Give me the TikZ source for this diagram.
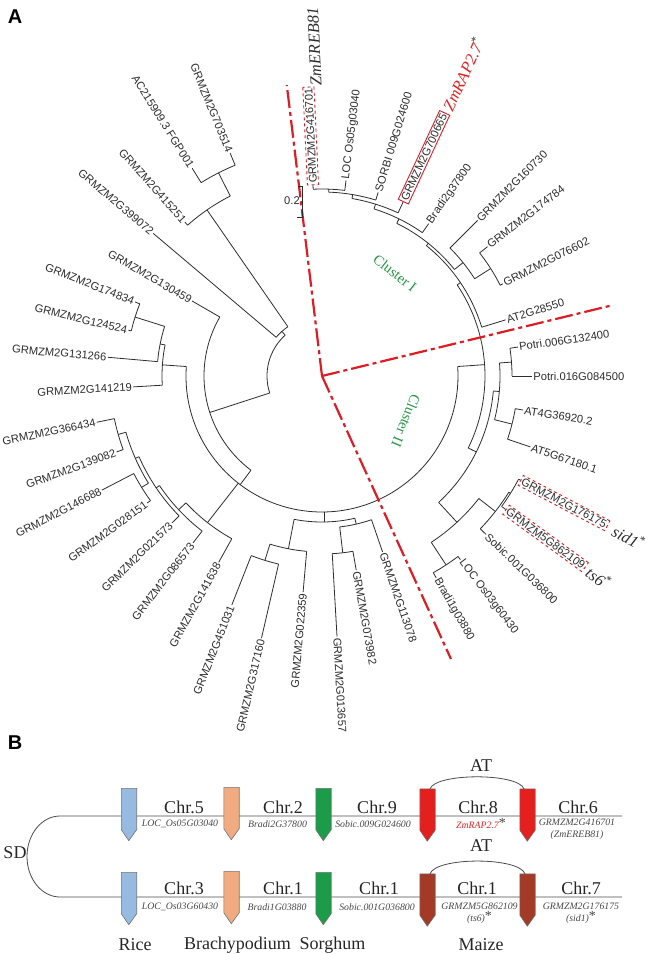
\documentclass[tikz,border=0pt]{standalone}
\usepackage{fontspec}
\setmainfont{Liberation Serif}
\setsansfont{Liberation Sans}
\usetikzlibrary{positioning}

\definecolor{treegray}{RGB}{45,45,45}
\definecolor{cutred}{RGB}{222,28,36}
\definecolor{clgreen}{RGB}{35,150,65}
\definecolor{riceblue}{RGB}{150,186,224}
\definecolor{brachy}{RGB}{240,172,128}
\definecolor{sorgreen}{RGB}{28,155,72}
\definecolor{maizered}{RGB}{228,32,30}
\definecolor{maizebrown}{RGB}{162,58,38}

\tikzstyle{leaf} = [font=\sffamily\fontsize{11.2}{11.5}\selectfont, text=treegray, inner sep=1pt]
\tikzstyle{branch} = [draw=treegray, line width=0.8pt]
\tikzstyle{cut} = [draw=cutred, line width=2.2pt, dash pattern=on 18pt off 4pt on 4pt off 4pt]
\tikzstyle{boxed} = [draw=cutred, line width=0.9pt, inner sep=1.6pt]
\tikzstyle{tag} = [font=\itshape\fontsize{16.5}{17}\selectfont, inner sep=1pt]
\tikzstyle{clabel} = [font=\fontsize{14.5}{15}\selectfont, text=clgreen]
\tikzstyle{panel} = [font=\sffamily\bfseries\fontsize{20}{20}\selectfont]
\tikzstyle{gene} = [rectangle, minimum width=15pt, minimum height=41pt, inner sep=0pt]
\tikzstyle{chr} = [font=\fontsize{18}{18}\selectfont, text=black!85]
\tikzstyle{gname} = [font=\itshape\fontsize{9.8}{12.5}\selectfont, text=black!72, align=center]
\tikzstyle{chrline} = [draw=black!70, line width=0.8pt]

% gene arrow drawn round a gene node
\newcommand{\genearrow}[2]{\filldraw[draw=black!55, line width=0.6pt, fill=#2]
  (#1.north west) -- (#1.south west) -- ++(7.5,-11) -- (#1.south east) -- (#1.north east) -- cycle;}

\begin{document}
\begin{tikzpicture}[x=1pt,y=1pt]
\useasboundingbox (0,0) rectangle (651,-954);
\node[panel] (pa) at (15,-17) {A};
\node[panel] (pb) at (15,-743) {B};

% ---- circular tree ----
\begin{scope}[shift={(322,-376)}]
\coordinate (root) at (0,0);
% arcs
\foreach \r/\a/\b in {187/83/92.7, 184/73/87.9, 180/65/80.4, 175/55/72.7, 200/27/38,
    181/32.5/45, 170/38.8/63.9, 167/17/51.3, 190/0/8.4, 196/-18.8/-9.6, 178/-14.2/4.2,
    222/-36/-27.7, 220/-44/-31.9, 226/-60.5/-53, 199/-56.7/-38, 172/-47.3/-5, 163/-26.2/34,
    136/-184/4, 196/158.4/166.7, 165/162.5/175, 160/168.8/183.3, 118/150/233, 55/132/198,
    60/124.7/139.8, 202/117/131.7, 228/112.4/122, 212/191.6/200.3, 212/207.4/216,
    204/196/211.7, 200/203.8/224.4, 196/214/232.3, 186/223/241, 193/248.5/257,
    176/252.8/265, 178/273.3/280, 152/276.7/289, 146/259/283}
  \draw[branch] (\a:\r) arc[start angle=\a, end angle=\b, radius=\r];
% inner branches
\foreach \t/\ra/\rb in {87.9/184/187, 80.4/180/184, 72.7/175/180, 32.5/181/200,
    63.9/170/175, 38.8/170/181, 51.3/167/170, 4.2/178/190, -14.2/178/196, -31.9/220/222,
    -38/199/220, -56.7/199/226, -5/172/178, -47.3/172/199, 34/163/167, -26.2/163/172,
    4/136/163, 162.5/165/196, 168.8/160/165, 176/136/160, 233/118/136, 198/55/118,
    132/55/60, 124.7/60/202, 117/202/228, 196/204/212, 211.7/204/212, 203.8/200/204,
    214/196/200, 223/186/196, 232/136/186, 252.8/176/193, 259/146/176, 276.7/152/178,
    283/146/152, 271/136/146}
  \draw[branch] (\t:\ra) -- (\t:\rb);
% leaves, right half
\foreach \n/\t/\ra/\rb/\txt in {2/83/187/197/LOC Os05g03040, 3/73/184/192/SORBI 009G024600,
    5/55/175/186/Bradi2g37800, 6/45/181/220/GRMZM2G160730, 7/38/200/210/GRMZM2G174784,
    8/27/200/203/GRMZM2G076602, 9/17/167/192/AT2G28550, 10/8.4/190/198/Potri.006G132400,
    11/0/190/210/Potri.016G084500, 12/-9.6/196/204/AT4G36920.2, 13/-18.8/196/220/AT5G67180.1,
    16/-44/220/228/Sobic.001G036800, 17/-53/226/230/LOC Os03g60430,
    18/-60.5/226/232/Bradi1g03880, 19/-71/152/186/GRMZM2G113078,
    20/-80/178/197/GRMZM2G073982, 21/-86.7/178/261/GRMZM2G013657}
  \draw[branch] (\t:\ra) -- (\t:\rb) node[leaf, rotate=\t, anchor=west] (l\n) {\txt};
% leaves, left half
\foreach \n/\t/\ra/\rb/\txt in {22/265/176/217/GRMZM2G022359, 23/257/193/269/GRMZM2G317160,
    24/248.5/193/246/GRMZM2G451031, 25/241/186/213/GRMZM2G141638,
    26/232.3/196/211/GRMZM2G086573, 27/224.4/200/210/GRMZM2G021573,
    28/216/212/216/GRMZM2G028151, 29/207.4/212/248/GRMZM2G146688,
    30/200.3/212/219/GRMZM2G139082, 31/191.6/212/230/GRMZM2G366434,
    32/183.3/160/189/GRMZM2G141219, 33/175/165/215/GRMZM2G131266,
    34/166.7/196/199/GRMZM2G124524, 35/158.4/196/201/GRMZM2G174834,
    36/150/118/150/GRMZM2G130459, 37/139.8/60/221/GRMZM2G399072,
    38/131.7/202/206/GRMZM2G415251, 39/122/228/245/AC215909.3 FGP001,
    40/112.4/228/241/GRMZM2G703514}
  \draw[branch] (\t:\ra) -- (\t:\rb) node[leaf, rotate=\t-180, anchor=east] (l\n) {\txt};
% marked genes
\draw[branch] (92.7:187) -- (92.7:191) node[leaf, boxed, dashed, rotate=92.7, anchor=west] (l1) {GRMZM2G416701};
\draw[branch] (65:180) -- (65:192) node[leaf, boxed, rotate=65, anchor=west] (l4) {GRMZM2G700665};
\draw[branch] (-27.7:222) -- (-27.7:224) node[leaf, boxed, dashed, rotate=-27.7, anchor=west] (l14) {GRMZM2G176175};
\draw[branch] (-36:222) -- (-36:227) node[leaf, boxed, dashed, rotate=-36, anchor=west] (l15) {GRMZM5G862109};
\node[tag, text=treegray, rotate=92.7, anchor=west] (erebtag) at ([xshift=8pt]l1.east) {ZmEREB81};
\node[tag, text=maizered, rotate=65, anchor=west] (raptag) at ([xshift=1pt, yshift=2pt]l4.east) {ZmRAP2.7\textsuperscript{\color{treegray}\upshape *}};
\node[tag, text=treegray, rotate=-27.7, anchor=west] (sidtag) at ([xshift=5pt, yshift=-3pt]l14.east) {sid1\textsuperscript{\upshape *}};
\node[tag, text=treegray, rotate=-36, anchor=west] (tstag) at ([xshift=2pt, yshift=-2pt]l15.east) {ts6\textsuperscript{\upshape *}};
% clusters
\coordinate (cutA) at (96.9:293);
\coordinate (cutB) at (13.7:300);
\coordinate (cutC) at (-65.5:311);
\draw[cut] (root) -- (cutA);
\draw[cut] (root) -- (cutB);
\draw[cut] (root) -- (cutC);
\node[clabel, rotate=-38] (cl1) at (73,103) {Cluster I};
\node[clabel, rotate=-112] (cl2) at (84,-45) {Cluster II};
\end{scope}

% scale bar
\coordinate (sb1) at (302,-186);
\coordinate (sb2) at (302,-217);
\draw[branch] ([xshift=-4pt]sb1) -- (sb1) -- (sb2) -- ([xshift=-5pt]sb2);
\node[leaf] (sbl) at (292,-201) {0.2};

% ---- synteny panel ----
\coordinate (tl) at (60,-816);
\coordinate (tr) at (622,-816);
\coordinate (bl) at (60,-897);
\coordinate (br) at (622,-897);
\draw[chrline] (tr) -- (tl) arc[start angle=90, end angle=270, x radius=33, y radius=40.5] -- (br);
\node[chr] (sd) at (15,-853) {SD};

\node[gene] (rt) at (129,-809) {};
\node[gene] (bt) at (231.5,-808) {};
\node[gene] (st) at (323.5,-809) {};
\node[gene] (mt1) at (427.5,-809.5) {};
\node[gene] (mt2) at (527.5,-809.5) {};
\node[gene] (rb) at (129,-893) {};
\node[gene] (bb) at (231.5,-892) {};
\node[gene] (sb) at (323.5,-893) {};
\node[gene] (mb1) at (427.5,-894.5) {};
\node[gene] (mb2) at (527.5,-894.5) {};
\genearrow{rt}{riceblue}
\genearrow{bt}{brachy}
\genearrow{st}{sorgreen}
\genearrow{mt1}{maizered}
\genearrow{mt2}{maizered}
\genearrow{rb}{riceblue}
\genearrow{bb}{brachy}
\genearrow{sb}{sorgreen}
\genearrow{mb1}{maizebrown}
\genearrow{mb2}{maizebrown}

\draw[chrline] ([xshift=2.5pt]mt1.north) .. controls +(6,16) and +(-6,16) .. ([xshift=-3.5pt]mt2.north);
\draw[chrline] ([xshift=2.5pt]mb1.north) .. controls +(6,17) and +(-6,17) .. ([xshift=-2.5pt]mb2.north);
\node[chr] (at1) at (481,-766) {AT};
\node[chr] (at2) at (481,-846) {AT};

\node[chr] (c5) at (184,-807) {Chr.5};
\node[chr] (c2) at (283,-807) {Chr.2};
\node[chr] (c9) at (377,-807) {Chr.9};
\node[chr] (c8) at (478,-807) {Chr.8};
\node[chr] (c6) at (578,-807) {Chr.6};
\node[chr] (c3) at (184,-888) {Chr.3};
\node[chr] (c1a) at (283,-888) {Chr.1};
\node[chr] (c1b) at (379,-888) {Chr.1};
\node[chr] (c1c) at (477,-888) {Chr.1};
\node[chr] (c7) at (581,-888) {Chr.7};

\node[gname] (g1) at (180,-824) {LOC\_Os05G03040};
\node[gname] (g2) at (277.5,-824) {Bradi2G37800};
\node[gname] (g3) at (373,-824) {Sobic.009G024600};
\node[gname] (g4) at (481,-823) {\textcolor{maizered}{ZmRAP2.7}\raisebox{1pt}{\upshape\fontsize{14}{14}\selectfont *}};
\node[gname] (g5) at (577,-829.5) {GRMZM2G416701\\(ZmEREB81)};
\node[gname] (g6) at (180,-907) {LOC\_Os03G60430};
\node[gname] (g7) at (277,-907) {Bradi1G03880};
\node[gname] (g8) at (377,-907) {Sobic.001G036800};
\node[gname] (g9) at (479.5,-913.5) {GRMZM5G862109\\(ts6)\raisebox{1pt}{\upshape\fontsize{14}{14}\selectfont *}};
\node[gname] (g10) at (581,-913.5) {GRMZM2G176175\\(sid1)\raisebox{1pt}{\upshape\fontsize{14}{14}\selectfont *}};

\node[chr] (sp1) at (135,-945) {Rice};
\node[chr] (sp2) at (237.5,-945) {Brachypodium};
\node[chr] (sp3) at (332.5,-945) {Sorghum};
\node[chr] (sp4) at (481,-945) {Maize};
\end{tikzpicture}
\end{document}
